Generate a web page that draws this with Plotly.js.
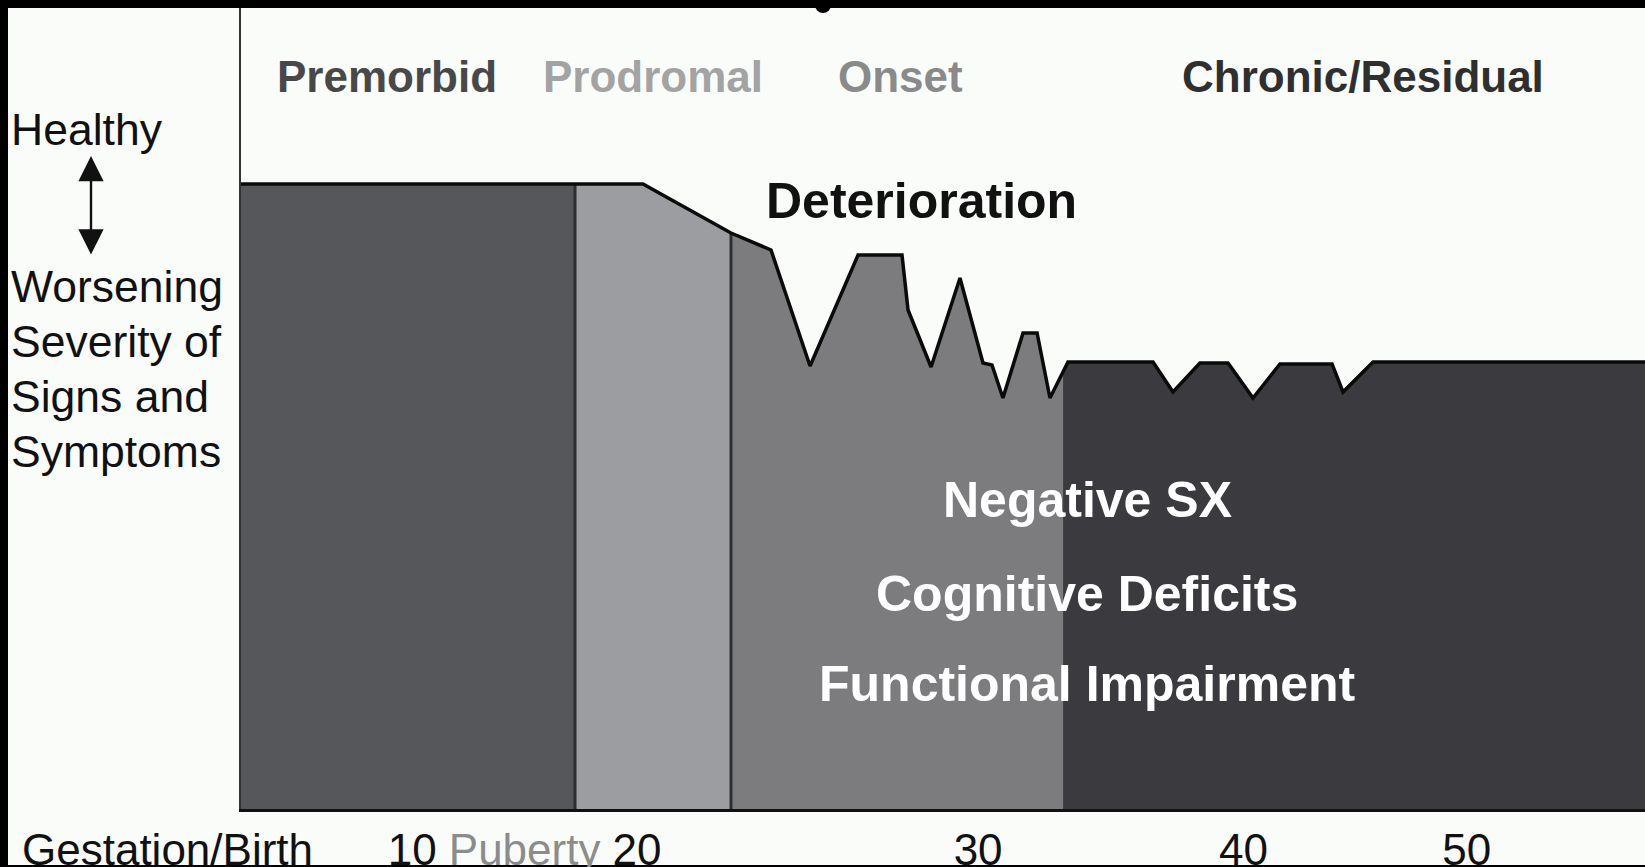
<!DOCTYPE html>
<html>
<head>
<meta charset="utf-8">
<script src="https://cdn.plot.ly/plotly-3.0.1.min.js"></script>
<style>html,body{margin:0;padding:0;background:#000;}#chart{width:1645px;height:867px;}</style>
</head>
<body>
<div id="chart"></div>
<script>
// Schematic course: x = timeline position (0-100), y = health level (0 = worst, 100 = top of frame)
const phaseNames = ['Premorbid', 'Prodromal', 'Onset', 'Chronic/Residual'];
const phaseStart = [0, 23.79, 34.90, 58.55];
const phaseEnd = [23.79, 34.90, 58.55, 100];
const phaseColors = ['#56575a', '#9b9da1', '#7c7c7f', '#3b3a3e'];
const phaseLabelColors = ['#484848', '#a3a3a3', '#8a8a8a', '#2f2f2f'];

const curveX = [0, 28.63, 34.90, 37.75, 40.53, 43.95, 47.08, 47.51, 49.15, 51.21, 52.85, 53.49, 54.27, 55.70, 56.70, 57.62, 58.90, 64.96, 66.38, 68.30, 70.30, 72.08, 74.00, 77.71, 78.49, 80.63, 100];
const curveY = [78.03, 78.03, 71.91, 69.79, 55.31, 69.16, 69.16, 62.30, 55.18, 66.29, 55.68, 55.43, 51.31, 59.43, 59.43, 51.31, 55.81, 55.81, 52.06, 55.68, 55.68, 51.31, 55.56, 55.56, 52.06, 55.81, 55.81];

const tickPositions = [12.2, 20.2, 28.2, 52.5, 71.4, 87.3];
const tickLabels = ['10', '<span style="color:#8c8c8c">Puberty</span>', '20', '30', '40', '50'];
const originLabel = 'Gestation/Birth';

const severityLines = ['Worsening', 'Severity of', 'Signs and', 'Symptoms'];
const symptomLines = ['Negative SX', 'Cognitive Deficits', 'Functional Impairment'];
const symptomY = [38.58, 26.84, 15.6];

const FONT = '"Liberation Sans", Arial, Helvetica, sans-serif';

function curveAt(x) {
  for (let i = 0; i < curveX.length - 1; i++) {
    if (x >= curveX[i] && x <= curveX[i + 1]) {
      const t = (x - curveX[i]) / (curveX[i + 1] - curveX[i]);
      return curveY[i] + t * (curveY[i + 1] - curveY[i]);
    }
  }
  return curveY[curveY.length - 1];
}

const traces = [];
phaseNames.forEach((name, k) => {
  const a = phaseStart[k], b = phaseEnd[k];
  const xs = [a], ys = [curveAt(a)];
  curveX.forEach((x, i) => { if (x > a && x < b) { xs.push(x); ys.push(curveY[i]); } });
  xs.push(b, b, a, a); ys.push(curveAt(b), 0, 0, curveAt(a));
  traces.push({x: xs, y: ys, type: 'scatter', mode: 'lines', fill: 'toself',
    fillcolor: phaseColors[k], line: {width: 0, color: phaseColors[k]}, name: name, hoverinfo: 'skip', showlegend: false});
});
// separators between premorbid/prodromal and prodromal/onset
[phaseStart[1], phaseStart[2]].forEach(x => {
  traces.push({x: [x, x], y: [0, curveAt(x)], type: 'scatter', mode: 'lines',
    line: {color: '#2e2e30', width: 3}, hoverinfo: 'skip', showlegend: false});
});
// course outline
traces.push({x: curveX, y: curveY, type: 'scatter', mode: 'lines',
  line: {color: '#0a0a0a', width: 3.5}, hoverinfo: 'skip', showlegend: false});

const PW = 1404, PH = 801, ML = 241, PB = 809;
const px2paperX = px => (px - ML) / PW;
const px2paperY = py => (PB - py) / PH;

const annotations = [];
const phaseCenters = [10.43, 29.34, 47.0, 79.88];
phaseNames.forEach((name, k) => {
  annotations.push({x: phaseCenters[k], xref: 'x', y: px2paperY(77), yref: 'paper', text: '<b>' + name + '</b>',
    showarrow: false, xanchor: 'center', yanchor: 'middle', font: {family: FONT, size: 44, color: phaseLabelColors[k]}});
});
annotations.push({x: 48.5, xref: 'x', y: 75.9, yref: 'y', text: '<b>Deterioration</b>', showarrow: false,
  xanchor: 'center', yanchor: 'middle', font: {family: FONT, size: 50, color: '#111'}});
symptomLines.forEach((t, i) => {
  annotations.push({x: 60.26, xref: 'x', y: symptomY[i], yref: 'y', text: '<b>' + t + '</b>', showarrow: false,
    xanchor: 'center', yanchor: 'middle', font: {family: FONT, size: 50, color: '#ffffff'}});
});
annotations.push({x: px2paperX(9), xref: 'paper', y: px2paperY(129), yref: 'paper', text: 'Healthy', showarrow: false,
  xanchor: 'left', yanchor: 'middle', font: {family: FONT, size: 44.5, color: '#111'}});
severityLines.forEach((t, i) => {
  annotations.push({x: px2paperX(9), xref: 'paper', y: px2paperY(287 + i * 54.7), yref: 'paper', text: t, showarrow: false,
    xanchor: 'left', yanchor: 'middle', font: {family: FONT, size: 44.5, color: '#111'}});
});
// double-headed arrow
annotations.push({x: px2paperX(91), xref: 'paper', y: px2paperY(156), yref: 'paper', ax: 0, ay: 100, text: '',
  showarrow: true, arrowside: 'end+start', arrowhead: 2, arrowsize: 2.1, arrowwidth: 2.4, arrowcolor: '#111'});
annotations.push({x: px2paperX(20), xref: 'paper', y: px2paperY(850), yref: 'paper', text: originLabel, showarrow: false,
  xanchor: 'left', yanchor: 'middle', font: {family: FONT, size: 44, color: '#111'}});

const layout = {
  width: 1645, height: 867,
  margin: {l: ML, r: 0, t: 8, b: 58, pad: 0},
  paper_bgcolor: '#000000', plot_bgcolor: '#fafcfa',
  showlegend: false,
  xaxis: {range: [0, 100], showgrid: false, zeroline: false, showline: true, linecolor: '#111', linewidth: 3,
    ticks: '', tickangle: 0, tickvals: tickPositions, ticktext: tickLabels,
    tickfont: {family: FONT, size: 44, color: '#111'}, fixedrange: true},
  yaxis: {range: [0, 100], showgrid: false, zeroline: false, showline: true, linecolor: '#333', linewidth: 2,
    showticklabels: false, ticks: '', fixedrange: true},
  shapes: [
    {type: 'rect', xref: 'paper', yref: 'paper', x0: px2paperX(8), x1: 1.01, y0: px2paperY(865), y1: px2paperY(8),
      fillcolor: '#fafcfa', line: {width: 0}, layer: 'below'},
    {type: 'circle', xref: 'paper', yref: 'paper', x0: px2paperX(815), x1: px2paperX(831), y0: px2paperY(13), y1: px2paperY(-3),
      fillcolor: '#000', line: {width: 0}, layer: 'above'}
  ],
  annotations: annotations
};

Plotly.newPlot('chart', traces, layout, {displayModeBar: false, staticPlot: true});
</script>
</body>
</html>
